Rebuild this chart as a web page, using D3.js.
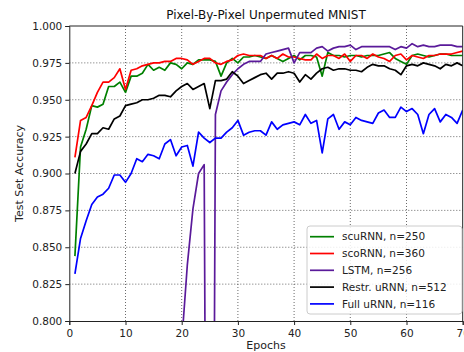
<!DOCTYPE html>
<html>
<head>
<meta charset="utf-8">
<script src="https://cdn.jsdelivr.net/npm/d3@7"></script>
<style>
  body { margin: 0; background: #fff; }
  svg { display: block; font-family: "DejaVu Sans", sans-serif; }
</style>
</head>
<body>
<svg id="chart" width="464" height="352"></svg>
<script>
// epochs 1..70
const epochs = d3.range(1, 71)

const scuRNN = [0.844, 0.918, 0.930, 0.946, 0.945, 0.947, 0.959, 0.959, 0.962, 0.955,
  0.966, 0.966, 0.968, 0.974, 0.970, 0.972, 0.970, 0.975, 0.974, 0.971,
  0.975, 0.974, 0.977, 0.977, 0.977, 0.976, 0.966, 0.975, 0.978, 0.975,
  0.979, 0.979, 0.980, 0.979, 0.978, 0.980, 0.978, 0.976, 0.978, 0.980,
  0.977, 0.980, 0.980, 0.979, 0.966, 0.982, 0.980, 0.980, 0.979, 0.980,
  0.980, 0.979, 0.980, 0.980, 0.980, 0.981, 0.982, 0.978, 0.976, 0.974,
  0.980, 0.981, 0.980, 0.979, 0.980, 0.981, 0.981, 0.980, 0.980, 0.980]

const scoRNN = [0.911, 0.936, 0.938, 0.946, 0.955, 0.962, 0.962, 0.965, 0.971, 0.957,
  0.970, 0.971, 0.973, 0.974, 0.975, 0.975, 0.976, 0.976, 0.978, 0.978,
  0.977, 0.974, 0.976, 0.978, 0.978, 0.975, 0.974, 0.976, 0.977, 0.980,
  0.981, 0.980, 0.980, 0.980, 0.978, 0.980, 0.978, 0.981, 0.979, 0.979,
  0.978, 0.977, 0.977, 0.981, 0.978, 0.980, 0.980, 0.978, 0.981, 0.976,
  0.980, 0.980, 0.978, 0.981, 0.979, 0.978, 0.976, 0.980, 0.981, 0.977,
  0.980, 0.979, 0.978, 0.980, 0.980, 0.981, 0.981, 0.981, 0.982, 0.983]

// LSTM only shows up from epoch 20 on (earlier values are below the axis)
const lstmEpochs = d3.range(20, 71)
const lstm = [0.785, 0.838, 0.876, 0.900, 0.906, 0.100, 0.940, 0.956, 0.962, 0.967,
  0.971, 0.974, 0.976, 0.976, 0.976, 0.981, 0.982, 0.983, 0.984, 0.985,
  0.975, 0.982, 0.982, 0.982, 0.985, 0.986, 0.983, 0.985, 0.986, 0.986,
  0.987, 0.984, 0.986, 0.986, 0.986, 0.986, 0.986, 0.986, 0.984, 0.986,
  0.985, 0.988, 0.986, 0.987, 0.986, 0.986, 0.987, 0.987, 0.987, 0.986,
  0.986]

const restrURNN = [0.900, 0.915, 0.920, 0.927, 0.927, 0.931, 0.930, 0.937, 0.939, 0.946,
  0.947, 0.948, 0.950, 0.950, 0.951, 0.953, 0.953, 0.952, 0.956, 0.959,
  0.961, 0.957, 0.959, 0.961, 0.944, 0.963, 0.963, 0.964, 0.969, 0.966,
  0.961, 0.963, 0.965, 0.967, 0.968, 0.964, 0.968, 0.968, 0.969, 0.968,
  0.962, 0.967, 0.964, 0.968, 0.971, 0.972, 0.970, 0.971, 0.971, 0.970,
  0.970, 0.969, 0.972, 0.974, 0.973, 0.973, 0.971, 0.970, 0.967, 0.973,
  0.974, 0.973, 0.975, 0.974, 0.973, 0.971, 0.974, 0.973, 0.975, 0.973]

const fullURNN = [0.832, 0.856, 0.868, 0.879, 0.884, 0.886, 0.890, 0.899, 0.899, 0.894,
  0.900, 0.910, 0.908, 0.913, 0.912, 0.910, 0.920, 0.923, 0.912, 0.918,
  0.919, 0.905, 0.928, 0.924, 0.921, 0.924, 0.924, 0.928, 0.931, 0.936,
  0.926, 0.928, 0.929, 0.929, 0.926, 0.935, 0.930, 0.933, 0.934, 0.935,
  0.933, 0.940, 0.934, 0.936, 0.914, 0.937, 0.940, 0.930, 0.935, 0.933,
  0.938, 0.936, 0.935, 0.934, 0.941, 0.943, 0.938, 0.938, 0.945, 0.942,
  0.944, 0.940, 0.927, 0.940, 0.944, 0.935, 0.940, 0.938, 0.934, 0.943]

const xTicks = [0, 10, 20, 30, 40, 50, 60, 70]
const yTicks = [0.800, 0.825, 0.850, 0.875, 0.900, 0.925, 0.950, 0.975, 1.000]

const series = [
  { name: 'scuRNN, n=250', x: epochs, y: scuRNN, color: '#008000' },
  { name: 'scoRNN, n=360', x: epochs, y: scoRNN, color: '#ff0000' },
  { name: 'LSTM, n=256', x: lstmEpochs, y: lstm, color: '#5a1a9a' },
  { name: 'Restr. uRNN, n=512', x: epochs, y: restrURNN, color: '#000000' },
  { name: 'Full uRNN, n=116', x: epochs, y: fullURNN, color: '#0000ff' }
]

const margin = { top: 26, left: 69.3 }
const width = 393.4
const height = 295

const svg = d3.select('#chart')
const g = svg.append('g')
  .attr('id', 'graph-g')
  .attr('transform', `translate(${margin.left},${margin.top})`)

const xScale = d3.scaleLinear().domain([0, 70]).range([0, width])
const yScale = d3.scaleLinear().domain([0.8, 1.0]).range([height, 0])

svg.append('defs').append('clipPath').attr('id', 'clip')
  .append('rect').attr('width', width).attr('height', height)

// grid
g.append('g').selectAll('line').data(xTicks.slice(1, -1)).join('line')
  .attr('x1', d => xScale(d)).attr('x2', d => xScale(d))
  .attr('y1', 0).attr('y2', height)
  .attr('stroke', '#444').attr('stroke-width', 0.8).attr('stroke-dasharray', '1,2')
g.append('g').selectAll('line').data(yTicks.slice(1, -1)).join('line')
  .attr('x1', 0).attr('x2', width)
  .attr('y1', d => yScale(d)).attr('y2', d => yScale(d))
  .attr('stroke', '#444').attr('stroke-width', 0.8).attr('stroke-dasharray', '1,2')

// lines
const line = d3.line().x(d => xScale(d[0])).y(d => yScale(d[1]))
g.append('g').attr('clip-path', 'url(#clip)')
  .selectAll('path').data(series).join('path')
  .attr('d', s => line(s.x.map((e, i) => [e, s.y[i]])))
  .attr('fill', 'none')
  .attr('stroke', s => s.color)
  .attr('stroke-width', 1.7)
  .attr('stroke-linejoin', 'round')

// axes
const xAxis = g.append('g').attr('transform', `translate(0,${height})`)
  .call(d3.axisBottom(xScale).tickValues(xTicks).tickSize(4).tickPadding(3).tickFormat(d3.format('d')))
const yAxis = g.append('g')
  .call(d3.axisLeft(yScale).tickValues(yTicks).tickSize(4).tickPadding(3).tickFormat(d3.format('.3f')))
for (const ax of [xAxis, yAxis]) {
  ax.select('.domain').attr('stroke', '#222')
  ax.selectAll('line').attr('stroke', '#222')
  ax.selectAll('text').attr('font-size', 10.5).attr('fill', '#222').attr('font-family', '"DejaVu Sans", sans-serif')
}
xAxis.selectAll('text').attr('dy', '0.9em')

// top/right spines
g.append('line').attr('x1', 0).attr('x2', width).attr('y1', 0).attr('y2', 0).attr('stroke', '#222')
g.append('line').attr('x1', width).attr('x2', width).attr('y1', 0).attr('y2', height).attr('stroke', '#222')

// title & labels
svg.append('text')
  .attr('x', margin.left + width / 2).attr('y', 19)
  .attr('text-anchor', 'middle').attr('font-size', 12).attr('fill', '#111')
  .text('Pixel-By-Pixel Unpermuted MNIST')
svg.append('text')
  .attr('x', margin.left + width / 2).attr('y', 348.5)
  .attr('text-anchor', 'middle').attr('font-size', 11).attr('fill', '#222')
  .text('Epochs')
svg.append('text')
  .attr('transform', `translate(23,${margin.top + height / 2}) rotate(-90)`)
  .attr('text-anchor', 'middle').attr('font-size', 11).attr('fill', '#222')
  .text('Test Set Accuracy')

// legend
const legend = svg.append('g').attr('transform', 'translate(307,226)')
legend.append('rect')
  .attr('width', 155).attr('height', 88).attr('rx', 3)
  .attr('fill', 'white').attr('fill-opacity', 0.85)
  .attr('stroke', '#ccc')
const item = legend.selectAll('.item').data(series).join('g')
  .attr('class', 'item')
  .attr('transform', (d, i) => `translate(0,${10.7 + i * 16.8})`)
item.append('line')
  .attr('x1', 3).attr('x2', 27)
  .attr('stroke', d => d.color).attr('stroke-width', 1.7)
item.append('text')
  .attr('x', 35).attr('dy', '0.35em')
  .attr('font-size', 10.5).attr('fill', '#222')
  .text(d => d.name)
</script>
</body>
</html>
